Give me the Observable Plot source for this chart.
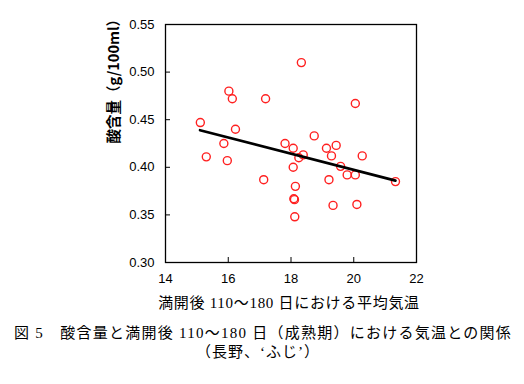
<!DOCTYPE html>
<html>
<head>
<meta charset="utf-8">
<script src="https://cdn.jsdelivr.net/npm/d3@7"></script>
<script src="https://cdn.jsdelivr.net/npm/@observablehq/plot@0.6"></script>
<style>
  html, body { margin: 0; padding: 0; background: #fff; }
  #chart { width: 524px; height: 384px; }
</style>
</head>
<body>
<div id="chart"></div>
<script>
// Mean air temperature 110–180 days after full bloom (°C)
const temperature = [15.11, 16.02, 16.13, 17.19, 16.23, 18.33, 20.05, 18.74, 15.86, 15.30, 15.97,
  17.13, 17.81, 18.07, 18.25, 18.39, 18.07, 19.13, 19.44, 19.29, 20.27, 19.58, 19.79, 20.05,
  19.21, 21.33, 18.14, 18.09, 18.11, 19.34, 20.10, 18.12];
// Acid content (g/100ml)
const acidity = [0.447, 0.480, 0.472, 0.472, 0.440, 0.510, 0.467, 0.433, 0.425, 0.411, 0.407,
  0.387, 0.425, 0.420, 0.410, 0.413, 0.400, 0.420, 0.423, 0.412, 0.412, 0.401, 0.392, 0.392,
  0.387, 0.385, 0.380, 0.367, 0.366, 0.360, 0.361, 0.348];
// Trend line end points
const trendX = [15.1, 21.33];
const trendY = [0.439, 0.386];

const xTicks = [14, 16, 18, 20, 22];
const yTicks = [0.30, 0.35, 0.40, 0.45, 0.50, 0.55];

const yTitle = "酸含量（g/100ml）";
const xTitle = "満開後 110～180 日における平均気温";
const captionLine1 = "図 5　酸含量と満開後 110～180 日（成熟期）における気温との関係";
const captionLine2 = "（長野、‘ふじ’）";

const points = temperature.map((t, i) => ({t, a: acidity[i]}));
const trend = trendX.map((t, i) => ({t, a: trendY[i]}));

const cjkFont = "'Liberation Serif', 'Noto Sans CJK JP', serif";

const chart = Plot.plot({
  width: 524,
  height: 384,
  marginLeft: 165,
  marginRight: 108,
  marginTop: 24,
  marginBottom: 122,
  style: {fontFamily: "'Liberation Sans', Arial, sans-serif", fontSize: "13px", color: "#000", background: "#fff"},
  x: {domain: [14, 22], ticks: xTicks},
  y: {domain: [0.30, 0.55], ticks: yTicks},
  marks: [
    Plot.axisX({ticks: xTicks, tickSize: -5, tickPadding: 16.5, label: null, fontSize: 13, strokeWidth: 1}),
    Plot.axisY({ticks: yTicks, tickSize: -5, tickPadding: 16, label: null, tickFormat: d3.format(".2f"), fontSize: 13, strokeWidth: 1}),
    Plot.frame({stroke: "#000", strokeWidth: 1.3}),
    Plot.dot(points, {x: "t", y: "a", r: 4, stroke: "#ff2020", strokeWidth: 1.4, fill: "none"}),
    Plot.line(trend, {x: "t", y: "a", stroke: "#000", strokeWidth: 2.6}),
    Plot.text([yTitle], {frameAnchor: "left", dx: -51, rotate: -90, text: d => d, fontSize: 14.5, fontWeight: "bold",
      fontFamily: "'Noto Sans CJK JP', sans-serif", fill: "#000"}),
    Plot.text([xTitle], {frameAnchor: "bottom", dx: -2, dy: 41, text: d => d, fontSize: 15, lineAnchor: "middle",
      fontFamily: cjkFont, fill: "#000"}),
    Plot.text([captionLine1], {frameAnchor: "bottom", dx: -28, dy: 71, text: d => d, fontSize: 15, lineAnchor: "middle",
      fontFamily: cjkFont, fill: "#000"}),
    Plot.text([captionLine2], {frameAnchor: "bottom", dx: -33, dy: 90, text: d => d, fontSize: 15, lineAnchor: "middle",
      fontFamily: cjkFont, fill: "#000"})
  ]
});
// Wider letter spacing to match the reference's Mincho-style text widths
d3.select(chart).selectAll("text").each(function() {
  const s = this.textContent;
  if (s === captionLine1) this.setAttribute("letter-spacing", "1.25");
  else if (s === xTitle) this.setAttribute("letter-spacing", "0.7");
  else if (s === captionLine2) this.setAttribute("letter-spacing", "1");
});
document.getElementById("chart").appendChild(chart);
</script>
</body>
</html>
